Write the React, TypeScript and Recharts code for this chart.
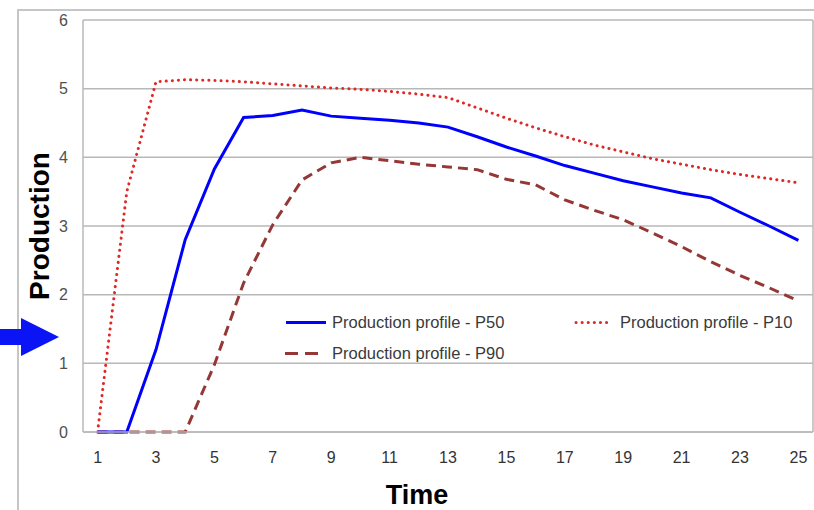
import React from "react";
import { LineChart, Line, XAxis, YAxis, CartesianGrid, ReferenceLine } from "recharts";

const FONT = "'Liberation Sans', Arial, sans-serif";

const periods = [1, 2, 3, 4, 5, 6, 7, 8, 9, 10, 11, 12, 13, 14, 15, 16, 17, 18, 19, 20, 21, 22, 23, 24, 25];
const p50 = [0, 0, 1.2, 2.8, 3.83, 4.58, 4.61, 4.69, 4.6, 4.57, 4.54, 4.5, 4.44, 4.3, 4.15, 4.02, 3.88, 3.77, 3.66, 3.57, 3.48, 3.41, 3.2, 3.0, 2.79];
const p10 = [0, 3.5, 5.1, 5.13, 5.12, 5.1, 5.07, 5.04, 5.01, 4.99, 4.96, 4.92, 4.87, 4.72, 4.57, 4.43, 4.3, 4.18, 4.08, 3.98, 3.9, 3.82, 3.75, 3.69, 3.63];
const p90 = [0, 0, 0, 0, 0.98, 2.17, 3.02, 3.67, 3.92, 4.0, 3.95, 3.9, 3.86, 3.82, 3.68, 3.6, 3.38, 3.23, 3.09, 2.9, 2.7, 2.48, 2.28, 2.1, 1.91];
const xTicks = [1, 3, 5, 7, 9, 11, 13, 15, 17, 19, 21, 23, 25];
const yTicks = [0, 1, 2, 3, 4, 5, 6];

const data = periods.map((t, i) => ({ t, p50: p50[i], p10: p10[i], p90: p90[i] }));

const BLUE = "#0000ff";
const RED = "#de2a26";
const DARKRED = "#953735";
const GRID = "#b8b8b8";

const legendText: React.CSSProperties = {
  position: "absolute",
  fontFamily: FONT,
  fontSize: 16.5,
  color: "#3a3a3a",
  lineHeight: "20px",
  whiteSpace: "nowrap",
};

export default function App() {
  return (
    <div style={{ position: "absolute", left: 0, top: 0, width: 814, height: 510, overflow: "hidden", background: "#fff" }}>
      {/* outer frame */}
      <div style={{ position: "absolute", left: 17, top: 9, width: 900, height: 600, borderLeft: "2px solid #c6c6c6", borderTop: "2px solid #c6c6c6" }} />

      <div style={{ position: "absolute", left: 0, top: 0 }}>
        <LineChart width={814} height={510} data={data} margin={{ top: 20, right: 1, left: 0, bottom: 0 }}>
          <CartesianGrid vertical={false} stroke={GRID} strokeWidth={1.5} />
          <XAxis
            dataKey="t"
            type="number"
            domain={[0.5, 25.5]}
            ticks={xTicks}
            interval={0}
            height={78}
            tickSize={0}
            tickMargin={20}
            axisLine={{ stroke: GRID, strokeWidth: 1.5 }}
            tick={{ fill: "#333333", fontSize: 16, fontFamily: FONT }}
            label={{
              content: () => (
                <text x={417} y={504} textAnchor="middle" fontSize={27} fontWeight="bold" fontFamily={FONT} fill="#000">
                  Time
                </text>
              ),
            }}
          />
          <YAxis
            domain={[0, 6]}
            ticks={yTicks}
            width={83}
            tickSize={0}
            tickMargin={15}
            axisLine={{ stroke: GRID, strokeWidth: 1.5 }}
            tick={{ fill: "#505050", fontSize: 16, fontFamily: FONT }}
            label={{
              content: () => (
                <text x={49} y={226} transform="rotate(-90 49 226)" textAnchor="middle" fontSize={28} fontWeight="bold" fontFamily={FONT} fill="#000">
                  Production
                </text>
              ),
            }}
          />
          <ReferenceLine x={25.5} stroke={GRID} strokeWidth={1.5} />
          <Line dataKey="p10" type="linear" stroke={RED} strokeWidth={3} strokeDasharray="0.1 6" strokeLinecap="round" dot={false} isAnimationActive={false} />
          <Line dataKey="p90" type="linear" stroke={DARKRED} strokeWidth={3} strokeDasharray="10 6" dot={false} isAnimationActive={false} />
          <Line dataKey="p50" type="linear" stroke={BLUE} strokeWidth={3} dot={false} isAnimationActive={false} />
        </LineChart>
      </div>

      {/* legend */}
      <svg style={{ position: "absolute", left: 0, top: 0 }} width={814} height={510}>
        <line x1={286} y1={322.5} x2={326} y2={322.5} stroke={BLUE} strokeWidth={3} />
        <line x1={576} y1={322.5} x2={612} y2={322.5} stroke={RED} strokeWidth={3} strokeDasharray="0.1 6" strokeLinecap="round" />
        <line x1={285} y1={353.5} x2={319} y2={353.5} stroke={DARKRED} strokeWidth={3} strokeDasharray="13 7" />
        {/* blue arrow */}
        <polygon points="0,329 21,329 21,318 59,337 21,356 21,345 0,345" fill="#0a14f5" />
      </svg>
      <div style={{ ...legendText, left: 332, top: 312 }}>Production profile - P50</div>
      <div style={{ ...legendText, left: 620, top: 312 }}>Production profile - P10</div>
      <div style={{ ...legendText, left: 332, top: 343 }}>Production profile - P90</div>
    </div>
  );
}
